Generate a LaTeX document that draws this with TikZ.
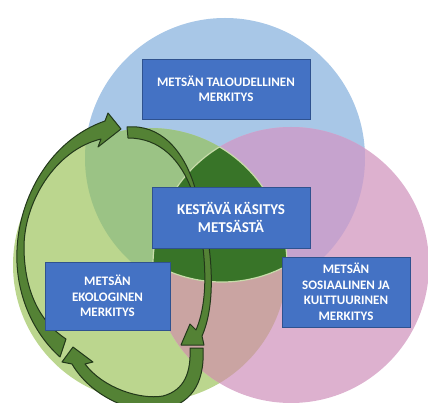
\documentclass[tikz,border=0pt]{standalone}
\usepackage{fontspec}
\setmainfont{Carlito}
\definecolor{cblue}{RGB}{168,199,231}
\definecolor{cgreen}{RGB}{187,214,142}
\definecolor{cpink}{RGB}{221,177,207}
\definecolor{cbg}{RGB}{155,195,133}
\definecolor{cbp}{RGB}{198,163,206}
\definecolor{cgp}{RGB}{202,164,162}
\definecolor{cdark}{RGB}{56,116,40}
\definecolor{clight}{RGB}{200,220,170}
\definecolor{boxfill}{RGB}{68,114,196}
\definecolor{boxline}{RGB}{47,82,143}
\definecolor{arrfill}{RGB}{84,130,53}
\definecolor{arrline}{RGB}{34,56,26}
\tikzset{
  infobox/.style={fill=boxfill, draw=boxline, line width=0.8pt, text=white,
    font=\bfseries\fontsize{13}{15.5}\selectfont, align=center, inner sep=0pt},
  bigtext/.style={font=\bfseries\fontsize{15}{18}\selectfont},
  cyclearrow/.style={fill=arrfill, draw=arrline, line width=1pt, line join=round},
  rim/.style={draw=clight, line width=1.2pt},
}
\begin{document}
\begin{tikzpicture}[x=1pt,y=-1pt]
\useasboundingbox (0,0) rectangle (428,403);
\clip (0,0) rectangle (428,403);
% circles
\fill[cblue] (225,158) circle (140pt);
\fill[cgreen] (150,265) circle (137pt);
\fill[cpink] (291,265) circle (138pt);
\begin{scope}
  \clip (150,265) circle (137pt);
  \fill[cbg] (225,158) circle (140pt);
\end{scope}
\begin{scope}
  \clip (291,265) circle (138pt);
  \fill[cbp] (225,158) circle (140pt);
\end{scope}
\begin{scope}
  \clip (150,265) circle (137pt);
  \fill[cgp] (291,265) circle (138pt);
\end{scope}
% dark centre
\begin{scope}
  \clip (150,265) circle (137pt);
  \clip (291,265) circle (138pt);
  \fill[cdark] (222,145) circle (137pt);
  \draw[rim] (222,145) circle (137pt);
\end{scope}
\begin{scope}
  \clip (150,265) circle (137pt);
  \clip (222,145) circle (137pt);
  \draw[rim] (291,265) circle (138pt);
\end{scope}
\begin{scope}
  \clip (291,265) circle (138pt);
  \clip (222,145) circle (137pt);
  \draw[rim] (150,265) circle (137pt);
\end{scope}
% cycle arrows
\path[cyclearrow] (60,357) .. controls (32,332) and (15,292) .. (17,250)
  .. controls (19,198) and (50,140) .. (105,121) -- (108,113) -- (121,129)
  -- (98,147) -- (101,139) .. controls (55,150) and (23,203) .. (24,250)
  .. controls (25,292) and (40,322) .. (66,339) -- cycle;
\path[cyclearrow] (127,127) .. controls (160,124) and (184,150) .. (195,188)
  .. controls (212,235) and (218,300) .. (202,336) -- (204,345) -- (181,345)
  -- (190,324) -- (196,330) .. controls (211,295) and (205,240) .. (192,191)
  .. controls (181,160) and (160,138) .. (128,138) -- cycle;
\path[cyclearrow] (190,348) -- (203,348) .. controls (205,385) and (190,405) .. (160,410)
  .. controls (130,414) and (90,395) .. (72,364) -- (62,362) -- (73,347)
  -- (93,362) -- (85,364) .. controls (103,388) and (140,400) .. (163,396)
  .. controls (185,390) and (191,372) .. (190,348) -- cycle;
% boxes
\node[infobox, minimum width=168pt, minimum height=60pt] (talous) at (226,89)
  {METSÄN TALOUDELLINEN\\MERKITYS};
\node[infobox, bigtext, minimum width=158pt, minimum height=61pt] (kestava) at (231,217.5)
  {KESTÄVÄ KÄSITYS\\METSÄSTÄ};
\node[infobox, minimum width=125pt, minimum height=68pt] (ekol) at (107.5,296)
  {METSÄN\\EKOLOGINEN\\MERKITYS};
\node[infobox, minimum width=128pt, minimum height=70pt] (sos) at (346,292)
  {METSÄN\\SOSIAALINEN JA\\KULTTUURINEN\\MERKITYS};
\end{tikzpicture}
\end{document}
